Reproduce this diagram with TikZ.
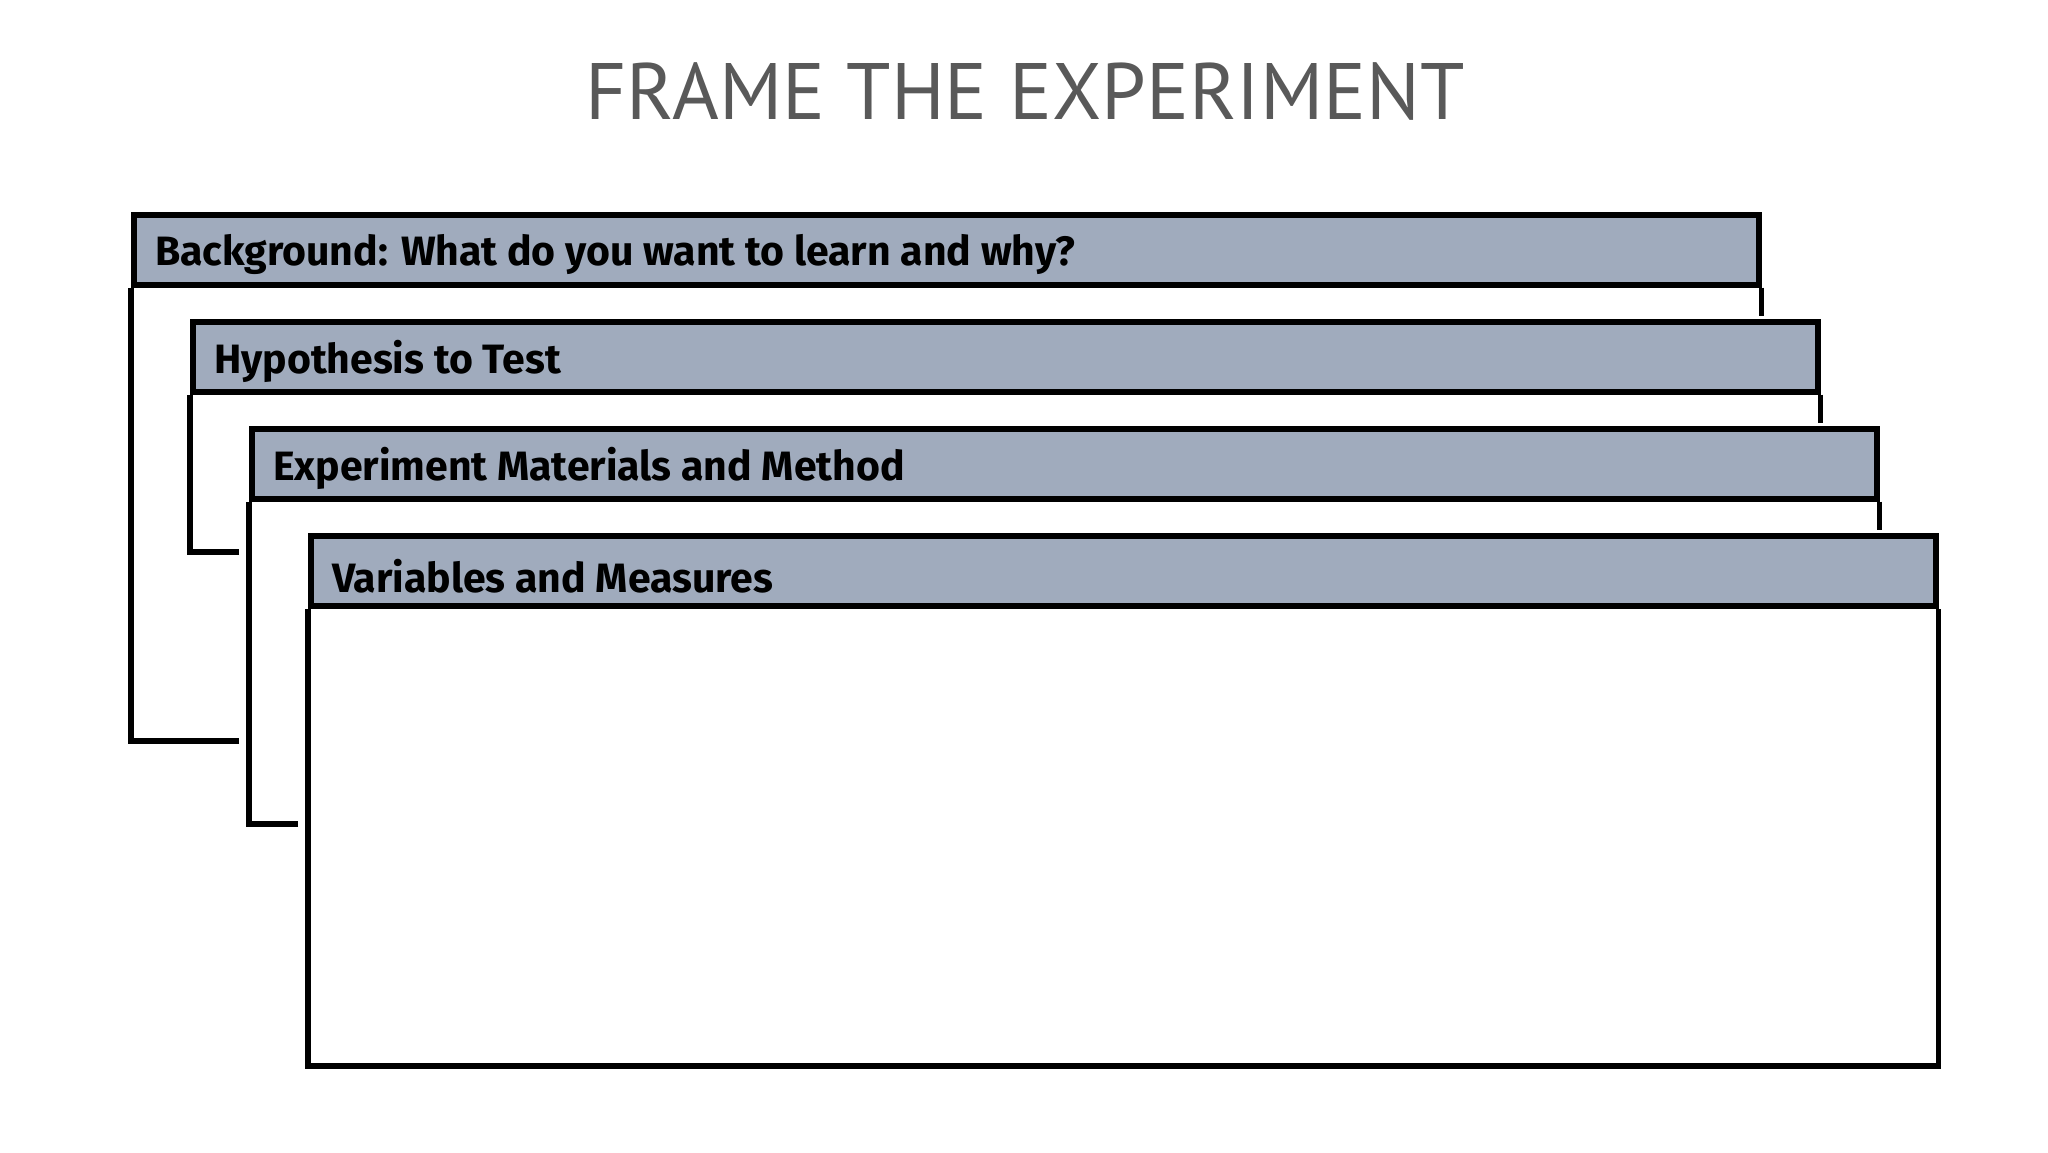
\documentclass[tikz,border=0pt]{standalone}
\usepackage{fontspec}
\setmainfont{PT Sans}
\newfontfamily\headfont{Fira Sans}
\definecolor{headgray}{RGB}{160,171,189}
\definecolor{titlegray}{RGB}{89,89,89}
\tikzset{
  cardhead/.style={draw,fill=headgray,anchor=north west,inner sep=0pt,
    minimum width=1625pt,minimum height=70pt},
  cardtext/.style={anchor=west,font=\headfont\bfseries\fontsize{41}{48}\selectfont}
}
\begin{document}
\begin{tikzpicture}[x=1pt,y=-1pt,line width=5.5pt]
	\useasboundingbox (0,0) rectangle (2048,1152);
	\node[text=titlegray,font=\fontsize{80}{90}\selectfont] (title) at (1025,91) {FRAME THE EXPERIMENT};
	% open cards behind
	\foreach \i/\x/\y/\bot/\stub/\lbl in {1/131/212/741/239/{Background: What do you want to learn and why?},
	    2/190/319/552/239/{Hypothesis to Test},
	    3/249/426/824/298/{Experiment Materials and Method}}{
	    \node[cardhead] (head\i) at (\x,\y) {};
	    \node[cardtext] (lbl\i) at ([xshift=18pt,yshift=-5pt]head\i.west) {\lbl};
	    \draw (head\i.south east) -- ++(0,28);
	    \draw (\stub,\bot) -- (\x,\bot) -- (head\i.south west);
	}
	% front card
	\node[cardhead] (head4) at (308,533) {};
	\node[cardtext] (lbl4) at ([xshift=18pt,yshift=-5pt]head4.west) {Variables and Measures};
	\draw (head4.south west) |- (head4.east |- 0,1066) -- (head4.south east);
\end{tikzpicture}
\end{document}
